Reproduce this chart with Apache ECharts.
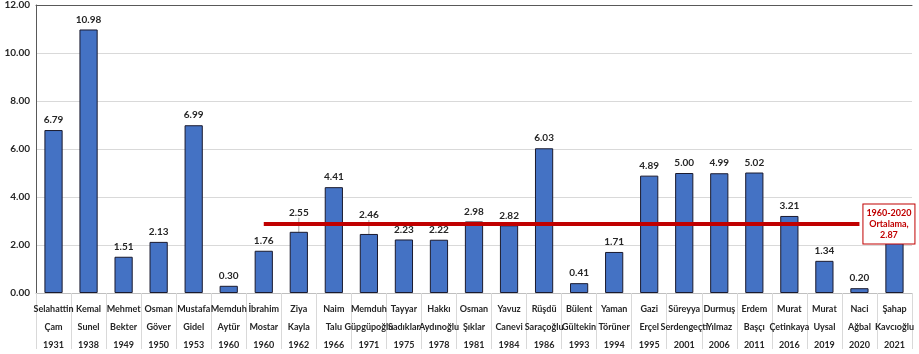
<!DOCTYPE html>
<html>
<head>
<meta charset="utf-8">
<script src="https://cdn.jsdelivr.net/npm/echarts@6/dist/echarts.min.js"></script>
<style>
  html, body { margin: 0; padding: 0; background: #ffffff; }
  #chart { width: 919px; height: 354px; }
</style>
</head>
<body>
<div id="chart"></div>
<script>
// Governors: first name, surname, year taking office
const firstNames = ['Selahattin', 'Kemal', 'Mehmet', 'Osman', 'Mustafa', 'Memduh', 'İbrahim', 'Ziya',
  'Naim', 'Memduh', 'Tayyar', 'Hakkı', 'Osman', 'Yavuz', 'Rüşdü', 'Bülent', 'Yaman', 'Gazi',
  'Süreyya', 'Durmuş', 'Erdem', 'Murat', 'Murat', 'Naci', 'Şahap'];
const lastNames = ['Çam', 'Sunel', 'Bekter', 'Göver', 'Gidel', 'Aytür', 'Mostar', 'Kayla',
  'Talu', 'Güpgüpoğlu', 'Sadıklar', 'Aydınoğlu', 'Şıklar', 'Canevi', 'Saraçoğlu', 'Gültekin', 'Törüner', 'Erçel',
  'Serdengeçti', 'Yılmaz', 'Başçı', 'Çetinkaya', 'Uysal', 'Ağbal', 'Kavcıoğlu'];
const years = ['1931', '1938', '1949', '1950', '1953', '1960', '1960', '1962',
  '1966', '1971', '1975', '1978', '1981', '1984', '1986', '1993', '1994', '1995',
  '2001', '2006', '2011', '2016', '2019', '2020', '2021'];
// Tenure values per governor
const values = [6.79, 10.98, 1.51, 2.13, 6.99, 0.30, 1.76, 2.55,
  4.41, 2.46, 2.23, 2.22, 2.98, 2.82, 6.03, 0.41, 1.71, 4.89,
  5.00, 4.99, 5.02, 3.21, 1.34, 0.20, 2.40];
// 1960-2020 average
const averageValue = 2.87;
const averageFrom = 6;   // İbrahim Mostar, 1960
const averageTo = 23;    // Naci Ağbal, 2020
const averageText = ['1960-2020', 'Ortalama,', '2.87'];
const yTicks = { min: 0, max: 12, interval: 2 };
</script>
<script>
const categories = firstNames.map((f, i) => f + '\n' + lastNames[i] + '\n' + years[i]);
const raised = [7, 9]; // labels lifted above the average line
const hiddenLabel = [values.length - 1];

const barData = values.map((v, i) => {
  const item = { value: v };
  if (hiddenLabel.includes(i)) item.label = { show: false };
  if (!raised.includes(i)) item.labelLine = { show: false };
  return item;
});

const chart = echarts.init(document.getElementById('chart'), null, { renderer: 'canvas' });
chart.setOption({
  animation: false,
  textStyle: { fontFamily: 'Lato' },
  grid: { left: 36, right: 7, top: 4, bottom: 56 },
  xAxis: [{
    type: 'category',
    data: categories,
    axisLine: { show: true, lineStyle: { color: '#bfbfbf', width: 1 } },
    axisTick: { show: true, length: 56, lineStyle: { color: '#d9d9d9' } },
    axisLabel: {
      interval: 0, hideOverlap: false, margin: 7,
      fontSize: 9, fontWeight: 'bold', color: '#262626', lineHeight: 18,
      fontFamily: 'Lato'
    }
  }, {
    type: 'category',
    position: 'top',
    data: categories,
    axisLine: { show: true, lineStyle: { color: '#595959', width: 1 } },
    axisTick: { show: false },
    axisLabel: { show: false }
  }],
  yAxis: {
    type: 'value',
    min: yTicks.min, max: yTicks.max, interval: yTicks.interval,
    axisLine: { show: true, lineStyle: { color: '#595959', width: 1 } },
    axisTick: { show: false },
    splitLine: { lineStyle: { color: '#d9d9d9' } },
    axisLabel: {
      formatter: v => v.toFixed(2),
      fontSize: 10, fontWeight: 'bold', color: '#262626', margin: 6, fontFamily: 'Lato'
    }
  },
  series: [{
    type: 'bar',
    data: barData,
    barWidth: '52%',
    itemStyle: { color: '#4472C4', borderColor: '#1a1a2e', borderWidth: 1 },
    label: {
      show: true, position: 'top', distance: 5,
      formatter: p => p.value.toFixed(2),
      fontSize: 10, fontWeight: 'bold', color: '#262626', fontFamily: 'Lato'
    },
    labelLine: { show: true, lineStyle: { color: '#a6a6a6', width: 1 } },
    labelLayout: p => raised.includes(p.dataIndex) ? { dy: -9 } : {},
    markLine: {
      silent: true,
      symbol: ['none', 'none'],
      lineStyle: { color: '#C00000', width: 4, type: 'solid' },
      label: {
        show: true, position: 'end', distance: 4,
        formatter: averageText.map(t => '{a|' + t + '}').join('\n'),
        backgroundColor: '#ffffff', borderColor: '#C00000', borderWidth: 1,
        padding: [3, 3, 3, 3],
        rich: {
          a: {
            width: 45, align: 'center', lineHeight: 11,
            color: '#C00000', fontSize: 9, fontWeight: 'bold', fontFamily: 'Lato'
          }
        }
      },
      data: [[
        { coord: [averageFrom, averageValue] },
        { coord: [averageTo, averageValue] }
      ]]
    }
  }]
});
</script>
</body>
</html>
